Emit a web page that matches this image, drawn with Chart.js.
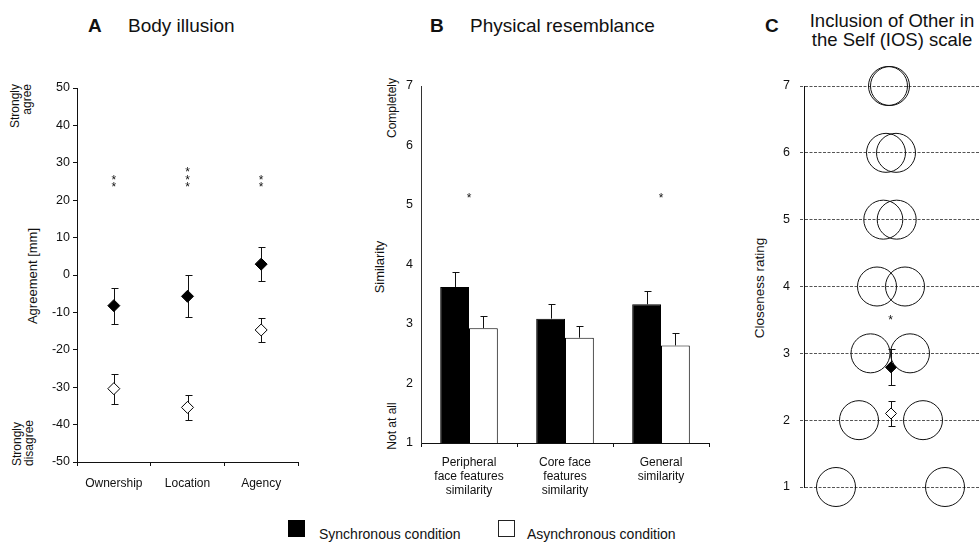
<!DOCTYPE html>
<html lang="en">
<head>
<meta charset="UTF-8">
<title>Body illusion, physical resemblance and IOS scale</title>
<script src="https://cdn.jsdelivr.net/npm/chart.js@4.4.1/dist/chart.umd.min.js"></script>
<style>
    body {
        margin: 0;
        width: 979px;
        height: 543px;
        overflow: hidden;
        position: relative;
        background: #fff;
        font-family: "Liberation Sans", Arial, sans-serif;
        color: #111;
    }
    canvas { position: absolute; top: 0; }
    .txt { position: absolute; white-space: nowrap; }
    .rot {
        position: absolute;
        white-space: nowrap;
        transform: translate(-50%, -50%) rotate(-90deg);
    }
    .title { font-size: 19px; line-height: 19px; }
    .letter { font-weight: bold; }
    .legend-box { position: absolute; width: 17px; height: 17px; box-sizing: border-box; }
</style>
</head>
<body>

<!-- panel titles -->
<div class="txt title letter" style="left:88px; top:16px;">A</div>
<div class="txt title" style="left:128px; top:16px;">Body illusion</div>
<div class="txt title letter" style="left:430px; top:16px;">B</div>
<div class="txt title" style="left:470px; top:16px;">Physical resemblance</div>
<div class="txt title letter" style="left:765px; top:16px;">C</div>
<div class="txt" style="left:804px; top:12px; width:176px; text-align:center; font-size:18.5px; line-height:18.5px;">Inclusion of Other in<br>the Self (IOS) scale</div>

<!-- axis side labels -->
<div class="rot" style="left:21px; top:106px; font-size:12px; line-height:11.5px; text-align:right;">Strongly<br>agree</div>
<div class="rot" style="left:32px; top:276px; font-size:13px;">Agreement [mm]</div>
<div class="rot" style="left:23px; top:443px; font-size:12px; line-height:11.5px; text-align:left;">Strongly<br>disagree</div>

<div class="rot" style="left:392px; top:108px; font-size:12px;">Completely</div>
<div class="rot" style="left:379px; top:267px; font-size:13px;">Similarity</div>
<div class="rot" style="left:392px; top:426px; font-size:12px;">Not at all</div>

<div class="rot" style="left:759px; top:288px; font-size:13.5px;">Closeness rating</div>

<!-- legend -->
<div class="legend-box" style="left:288px; top:520px; background:#000;"></div>
<div class="txt" style="left:319px; top:527px; font-size:14px; line-height:14px;">Synchronous condition</div>
<div class="legend-box" style="left:498px; top:520px; background:#fff; border:1px solid #222;"></div>
<div class="txt" style="left:527px; top:527px; font-size:14px; line-height:14px;">Asynchronous condition</div>

<canvas id="chartA" width="320" height="543" style="left:0;"></canvas>
<canvas id="chartB" width="390" height="543" style="left:330px;"></canvas>
<canvas id="chartC" width="249" height="543" style="left:730px;"></canvas>

<script>
    // A: body illusion questionnaire (agreement, mm)
    const bodyCategories = ['Ownership', 'Location', 'Agency'];
    const bodySync = [-8.2, -5.7, 2.9];
    const bodySyncErr = [4.8, 5.6, 4.6];
    const bodyAsync = [-30.4, -35.4, -14.7];
    const bodyAsyncErr = [4.0, 3.4, 3.2];
    const bodyStars = [2, 3, 2];
    const bodyStarLevel = 24.2;

    // B: physical resemblance ratings
    const resemCategories = [
        ['Peripheral', 'face features', 'similarity'],
        ['Core face', 'features', 'similarity'],
        ['General', 'similarity']
    ];
    const resemSync = [3.62, 3.09, 3.33];
    const resemSyncErr = [0.25, 0.25, 0.22];
    const resemAsync = [2.93, 2.77, 2.64];
    const resemAsyncErr = [0.21, 0.19, 0.21];
    const resemStars = [1, 0, 1];
    const resemStarLevel = 5.17;

    // C: IOS scale, pictogram circles per level + mean ratings
    const iosLevels = [1, 2, 3, 4, 5, 6, 7];
    const iosLeftX = [-54.5, -31.5, -20, -13.5, -7.2, -4.5, -2.5];
    const iosRightX = [54.5, 32.5, 19.5, 14.5, 6.2, 5.5, -0.5];
    const iosSync = 2.79;
    const iosSyncErr = 0.27;
    const iosAsync = 2.10;
    const iosAsyncErr = 0.19;
    const iosStarLevel = 3.55;

    const FONT = '"Liberation Sans", Arial, sans-serif';
    const INK = '#111';
    Chart.defaults.font.family = FONT;
    Chart.defaults.color = INK;
    Chart.defaults.animation = false;
    Chart.defaults.events = [];
    Chart.defaults.layout.autoPadding = false;
    Chart.defaults.plugins.legend.display = false;
    Chart.defaults.plugins.tooltip.enabled = false;

    function valueOf(v) { return typeof v === 'object' ? v.y : v; }

    function drawErrors(chart, sets) {
        const ctx = chart.ctx;
        const y = chart.scales.y;
        ctx.save();
        ctx.strokeStyle = INK;
        ctx.lineWidth = 1;
        sets.forEach(s => {
            const meta = chart.getDatasetMeta(s.dataset);
            const data = chart.data.datasets[s.dataset].data;
            meta.data.forEach((el, i) => {
                const v = valueOf(data[i]);
                const x = Math.round(el.x) + 0.5;
                const top = Math.round(y.getPixelForValue(v + s.err[i])) + 0.5;
                const bot = s.both ? Math.round(y.getPixelForValue(v - s.err[i])) + 0.5 : el.y;
                ctx.beginPath();
                ctx.moveTo(x, top);
                ctx.lineTo(x, bot);
                ctx.moveTo(x - s.cap, top);
                ctx.lineTo(x + s.cap + 1, top);
                if (s.both) {
                    ctx.moveTo(x - s.cap, bot);
                    ctx.lineTo(x + s.cap + 1, bot);
                }
                ctx.stroke();
            });
        });
        ctx.restore();
    }

    // error bars: drawn under markers (A, C) or over bars (B)
    const errorBars = {
        id: 'errorBars',
        beforeDatasetsDraw(chart, args, opts) {
            if (opts.sets && opts.under) drawErrors(chart, opts.sets);
        },
        afterDatasetsDraw(chart, args, opts) {
            if (opts.sets && !opts.under) drawErrors(chart, opts.sets);
        }
    };

    // significance asterisks, stacked upward from a level
    const stars = {
        id: 'stars',
        afterDatasetsDraw(chart, args, opts) {
            if (!opts.marks) return;
            const ctx = chart.ctx;
            ctx.save();
            ctx.fillStyle = INK;
            ctx.font = '12px ' + FONT;
            ctx.textAlign = 'center';
            ctx.textBaseline = 'alphabetic';
            opts.marks.forEach(m => {
                const x = chart.scales.x.getPixelForValue(m.x);
                const y = chart.scales.y.getPixelForValue(m.y);
                for (let k = 0; k < m.n; k++) {
                    ctx.fillText('*', x, y - k * 7.7 + 7);
                }
            });
            ctx.restore();
        }
    };

    // ---- A ----
    new Chart(document.getElementById('chartA'), {
        type: 'line',
        data: {
            labels: bodyCategories,
            datasets: [
                {
                    data: bodySync, showLine: false, clip: false,
                    pointStyle: 'rectRot', pointRadius: 6,
                    backgroundColor: '#000', borderColor: '#000', borderWidth: 1
                },
                {
                    data: bodyAsync, showLine: false, clip: false,
                    pointStyle: 'rectRot', pointRadius: 6,
                    backgroundColor: '#fff', borderColor: '#000', borderWidth: 1
                }
            ]
        },
        options: {
            responsive: false,
            layout: { padding: { left: 37, right: 22, top: 88, bottom: 0 } },
            scales: {
                x: {
                    offset: true,
                    grid: { offset: true, drawOnChartArea: false, tickLength: 4, color: INK },
                    border: { color: INK },
                    ticks: { font: { size: 12 }, padding: 10, maxRotation: 0, autoSkip: false },
                    afterFit: s => { s.height = 81; }
                },
                y: {
                    min: -50, max: 50,
                    grid: { drawOnChartArea: false, tickLength: 4, color: INK },
                    border: { color: INK },
                    ticks: { stepSize: 10, font: { size: 12.5 }, padding: 3 },
                    afterFit: s => { s.width = 40; }
                }
            },
            plugins: {
                errorBars: {
                    under: true,
                    sets: [
                        { dataset: 0, err: bodySyncErr, both: true, cap: 3 },
                        { dataset: 1, err: bodyAsyncErr, both: true, cap: 3 }
                    ]
                },
                stars: { marks: bodyStars.map((n, i) => ({ x: i, y: bodyStarLevel, n: n })) }
            }
        },
        plugins: [errorBars, stars]
    });

    // ---- B ----
    new Chart(document.getElementById('chartB'), {
        type: 'bar',
        data: {
            labels: resemCategories,
            datasets: [
                { data: resemSync, backgroundColor: '#000', borderColor: '#000', borderWidth: 1 },
                { data: resemAsync, backgroundColor: '#fff', borderColor: '#000', borderWidth: 1 }
            ]
        },
        options: {
            responsive: false,
            categoryPercentage: 0.6,
            barPercentage: 1.0,
            layout: { padding: { left: 51, right: 11, top: 86, bottom: 0 } },
            scales: {
                x: {
                    grid: { offset: true, drawOnChartArea: false, tickLength: 4, color: INK },
                    border: { color: INK },
                    ticks: { font: { size: 12, lineHeight: 1.17 }, padding: 9, maxRotation: 0, autoSkip: false },
                    afterFit: s => { s.height = 100; }
                },
                y: {
                    min: 1, max: 7,
                    grid: { display: false, drawTicks: false },
                    border: { color: '#333' },
                    ticks: { stepSize: 1, font: { size: 12.5 }, padding: 8 },
                    afterFit: s => { s.width = 40; }
                }
            },
            plugins: {
                errorBars: {
                    under: false,
                    sets: [
                        { dataset: 0, err: resemSyncErr, both: false, cap: 3 },
                        { dataset: 1, err: resemAsyncErr, both: false, cap: 3 }
                    ]
                },
                stars: { marks: resemStars.map((n, i) => ({ x: i, y: resemStarLevel, n: n })) }
            }
        },
        plugins: [errorBars, stars]
    });

    // ---- C ----
    const circleStyle = {
        showLine: false, clip: false, pointStyle: 'circle', pointRadius: 19.5,
        backgroundColor: 'rgba(0,0,0,0)', borderColor: INK, borderWidth: 1
    };
    new Chart(document.getElementById('chartC'), {
        type: 'scatter',
        data: {
            datasets: [
                Object.assign({ data: iosLevels.map((lv, i) => ({ x: iosLeftX[i], y: lv })) }, circleStyle),
                Object.assign({ data: iosLevels.map((lv, i) => ({ x: iosRightX[i], y: lv })) }, circleStyle),
                {
                    data: [{ x: 0.5, y: iosSync }], clip: false,
                    pointStyle: 'rectRot', pointRadius: 5.5,
                    backgroundColor: '#000', borderColor: '#000', borderWidth: 1
                },
                {
                    data: [{ x: 0.5, y: iosAsync }], clip: false,
                    pointStyle: 'rectRot', pointRadius: 5.5,
                    backgroundColor: '#fff', borderColor: '#000', borderWidth: 1
                }
            ]
        },
        options: {
            responsive: false,
            layout: { padding: { left: 30, right: 0, top: 86, bottom: 56 } },
            scales: {
                x: { display: false, min: -86.5, max: 88.5 },
                y: {
                    min: 1, max: 7,
                    grid: { color: '#555', tickLength: 4, tickBorderDash: [3, 1.5] },
                    border: { color: INK, dash: [3, 1.5] },
                    ticks: { stepSize: 1, font: { size: 12.5 }, padding: 10 },
                    afterFit: s => { s.width = 44; }
                }
            },
            plugins: {
                errorBars: {
                    under: true,
                    sets: [
                        { dataset: 2, err: [iosSyncErr], both: true, cap: 3 },
                        { dataset: 3, err: [iosAsyncErr], both: true, cap: 3 }
                    ]
                },
                stars: { marks: [{ x: 0, y: iosStarLevel, n: 1 }] }
            }
        },
        plugins: [errorBars, stars]
    });
</script>
</body>
</html>
